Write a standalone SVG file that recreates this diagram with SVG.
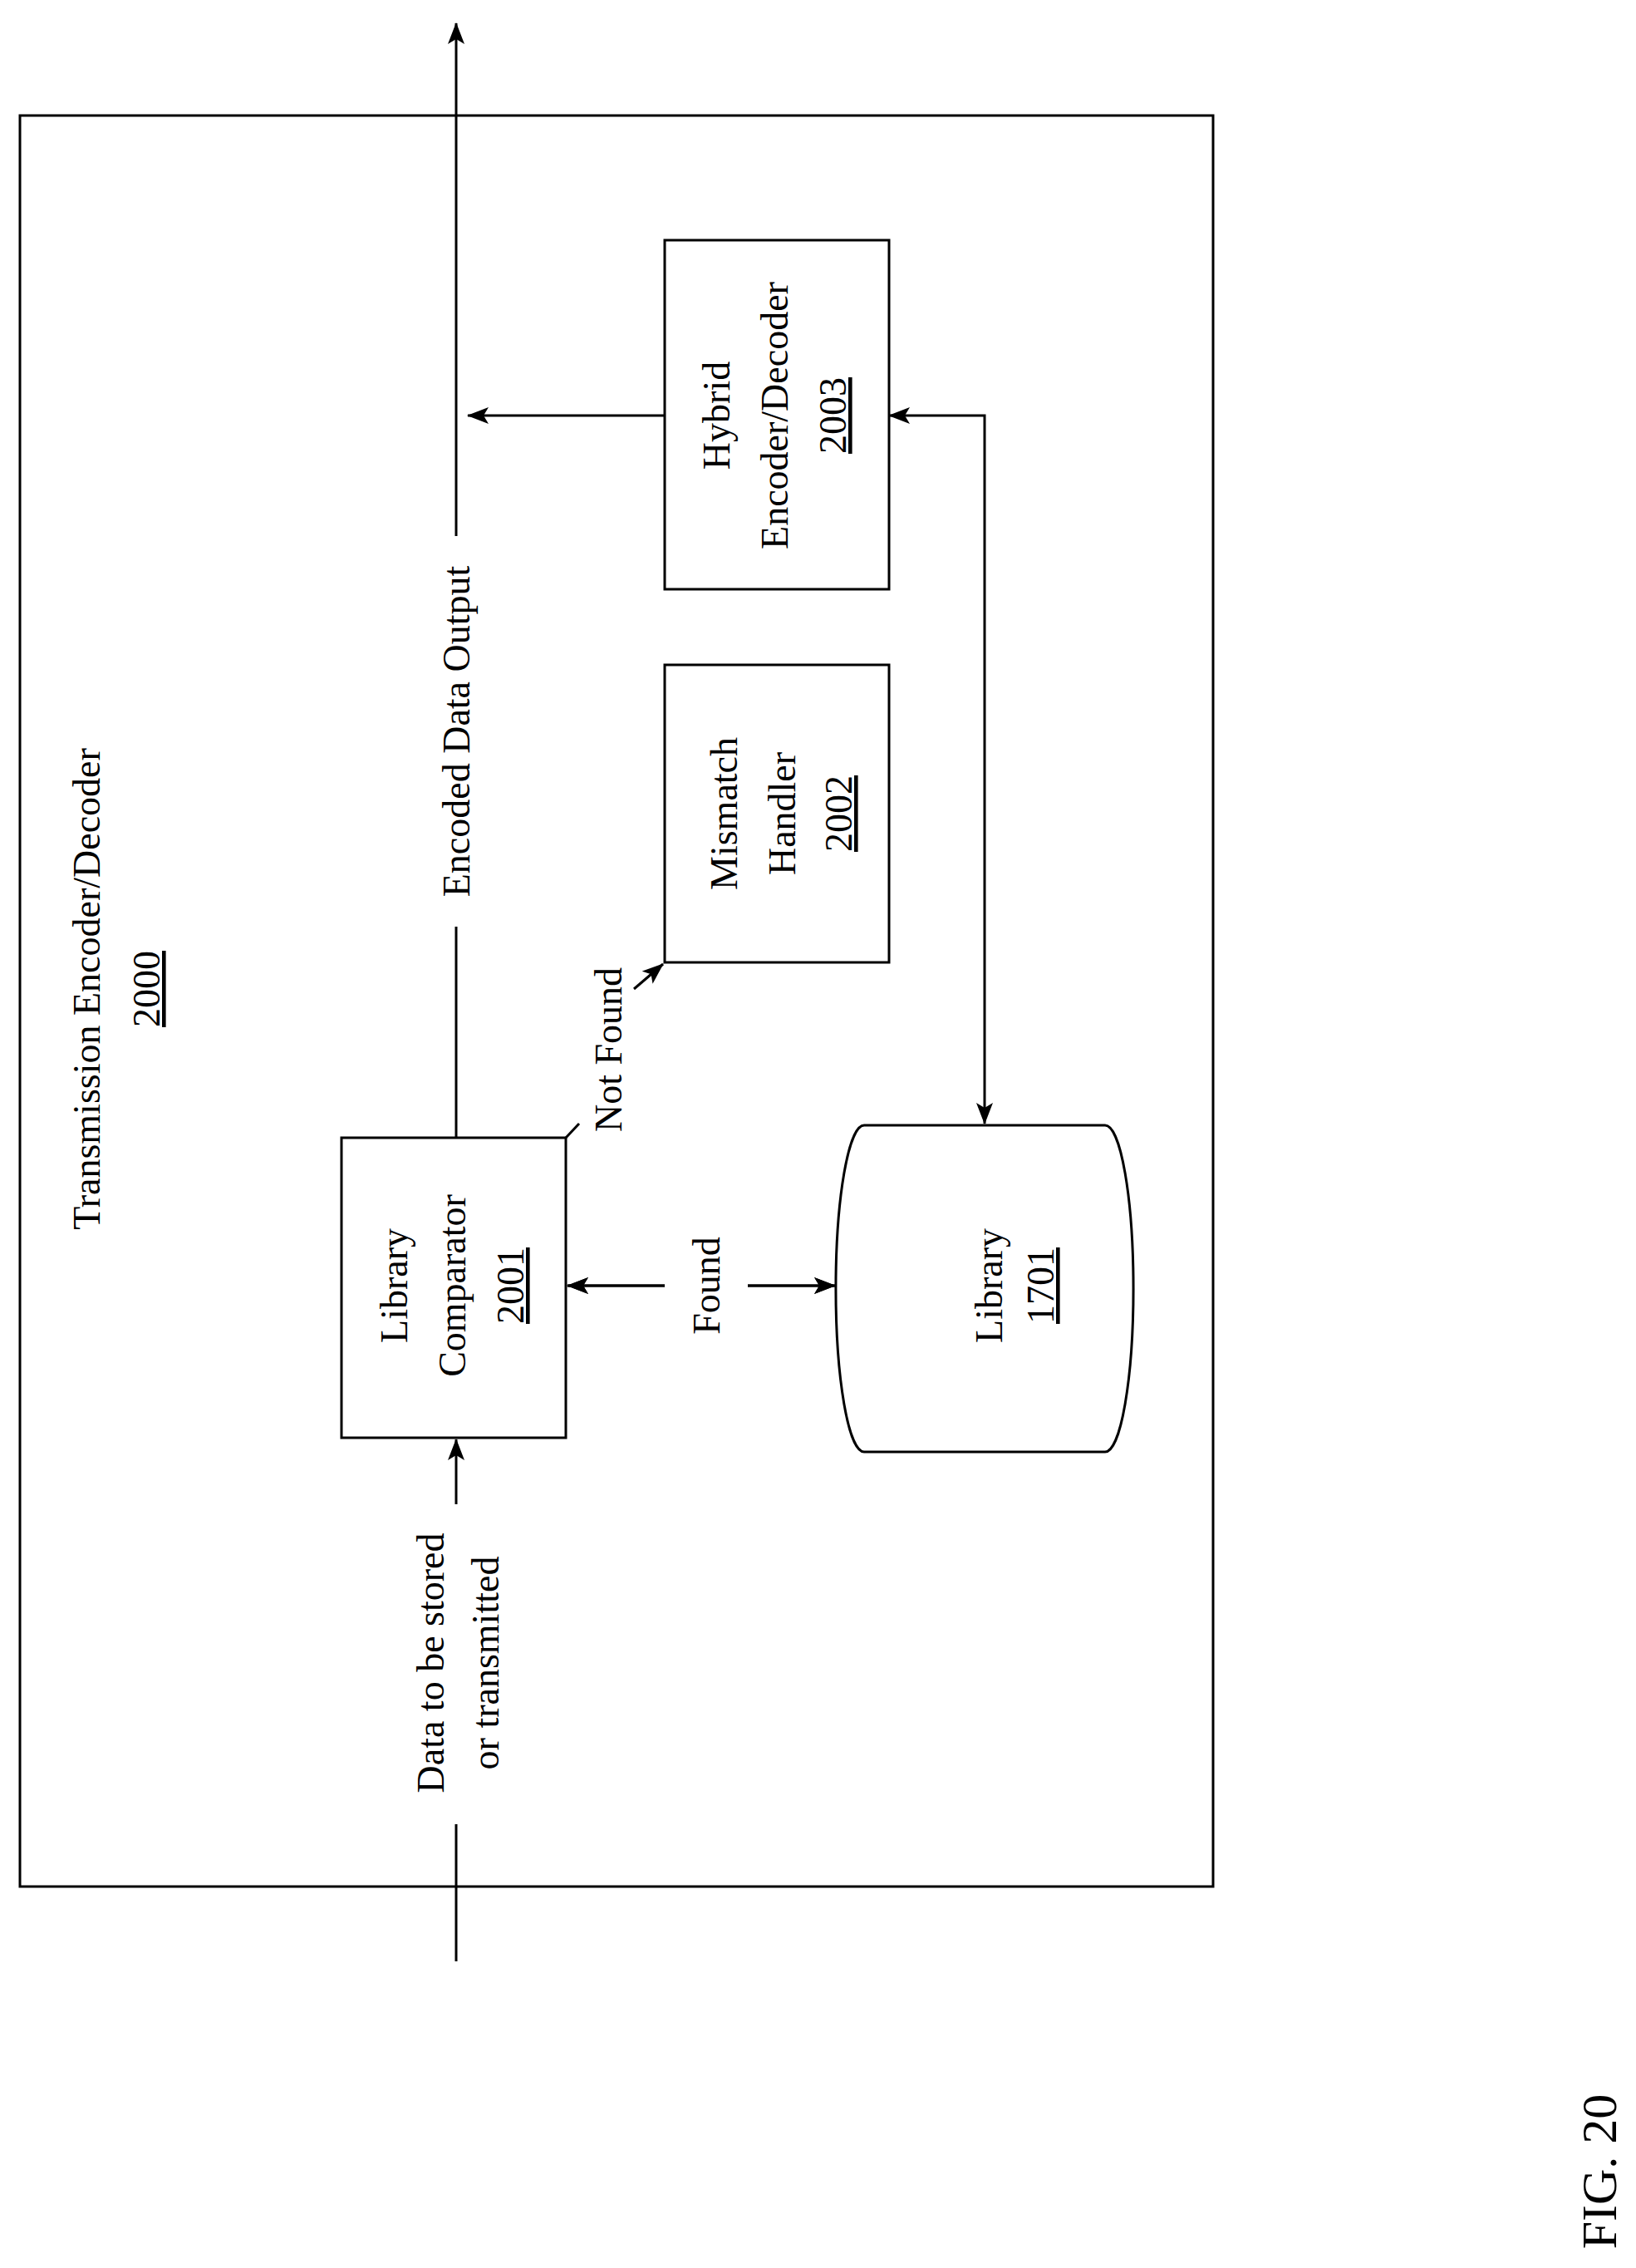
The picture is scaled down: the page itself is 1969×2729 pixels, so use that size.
<svg xmlns="http://www.w3.org/2000/svg" width="1969" height="2729" viewBox="0 0 1969 2729">
<style>
text{font-family:"Liberation Serif","Times New Roman",serif;font-size:46px;fill:#000;text-anchor:middle}
.u{text-decoration:underline}
.s{fill:none;stroke:#000;stroke-width:3}
</style>
<defs>
<marker id="a" markerWidth="12" markerHeight="10" refX="11" refY="5" orient="auto-start-reverse" markerUnits="userSpaceOnUse" viewBox="0 0 12 10"><path d="M0,0 L12,5 L0,10 Z" fill="#000"/></marker>
<marker id="b" markerWidth="26" markerHeight="20" refX="25" refY="10" orient="auto-start-reverse" markerUnits="userSpaceOnUse" viewBox="0 0 26 20"><path d="M0,0 L26,10 L0,20 L6,10 Z" fill="#000"/></marker>
</defs>
<rect width="1969" height="2729" fill="#fff"/>
<g id="frame">
<rect class="s" x="24" y="139" width="1436" height="2131"/>
<g transform="translate(120,1190) rotate(-90)"><text x="0" y="0">Transmission Encoder/Decoder</text><text class="u" x="0" y="72">2000</text></g>
</g>
<g id="n2001">
<rect class="s" x="411" y="1369" width="270" height="361"/>
<g transform="translate(490,1547) rotate(-90)"><text x="0" y="0">Library</text><text x="0" y="70">Comparator</text><text class="u" x="0" y="140">2001</text></g>
</g>
<g id="n2002">
<rect class="s" x="800" y="800" width="270" height="358"/>
<g transform="translate(887,979) rotate(-90)"><text x="0" y="0">Mismatch</text><text x="0" y="70">Handler</text><text class="u" x="0" y="138">2002</text></g>
</g>
<g id="n2003">
<rect class="s" x="800" y="289" width="270" height="420"/>
<g transform="translate(878,500) rotate(-90)"><text x="0" y="0">Hybrid</text><text x="0" y="70">Encoder/Decoder</text><text class="u" x="0" y="140">2003</text></g>
</g>
<g id="n1701">
<path class="s" d="M1040,1354 L1330,1354 A34,196 0 0 1 1330,1747 L1040,1747 A34,196 0 0 1 1040,1354 Z"/>
<g transform="translate(1206,1547) rotate(-90)"><text x="0" y="0">Library</text><text class="u" x="0" y="62">1701</text></g>
</g>
<g id="connectors">
<path class="s" d="M549,2360 V2195"/>
<path class="s" d="M549,1810 V1732" marker-end="url(#b)"/>
<g transform="translate(534,2001) rotate(-90)"><text x="0" y="0">Data to be stored</text><text x="0" y="66">or transmitted</text></g>
<path class="s" d="M549,1369 V1115"/>
<path class="s" d="M549,645 V28" marker-end="url(#b)"/>
<g transform="translate(565,880) rotate(-90)"><text x="0" y="0">Encoded Data Output</text></g>
<path class="s" d="M800,500 H563" marker-end="url(#b)"/>
<path class="s" d="M1070,500 H1185 V1352" marker-start="url(#b)" marker-end="url(#b)"/>
<path class="s" d="M683,1547 H800 M900,1547 H1005" marker-start="url(#b)" marker-end="url(#b)"/>
<path class="s" d="M683,1547 H800" marker-start="url(#b)"/>
<path class="s" d="M900,1547 H1005" marker-end="url(#b)"/>
<g transform="translate(866,1547) rotate(-90)"><text x="0" y="0">Found</text></g>
<path class="s" d="M681,1369 L697,1352"/>
<path class="s" d="M763,1190 L798,1160" marker-end="url(#b)"/>
<g transform="translate(748,1263) rotate(-90)"><text x="0" y="0">Not Found</text></g>
</g>
<g transform="translate(1945,2613) rotate(-90)"><text x="0" y="0" style="font-size:60px">FIG. 20</text></g>
</svg>
